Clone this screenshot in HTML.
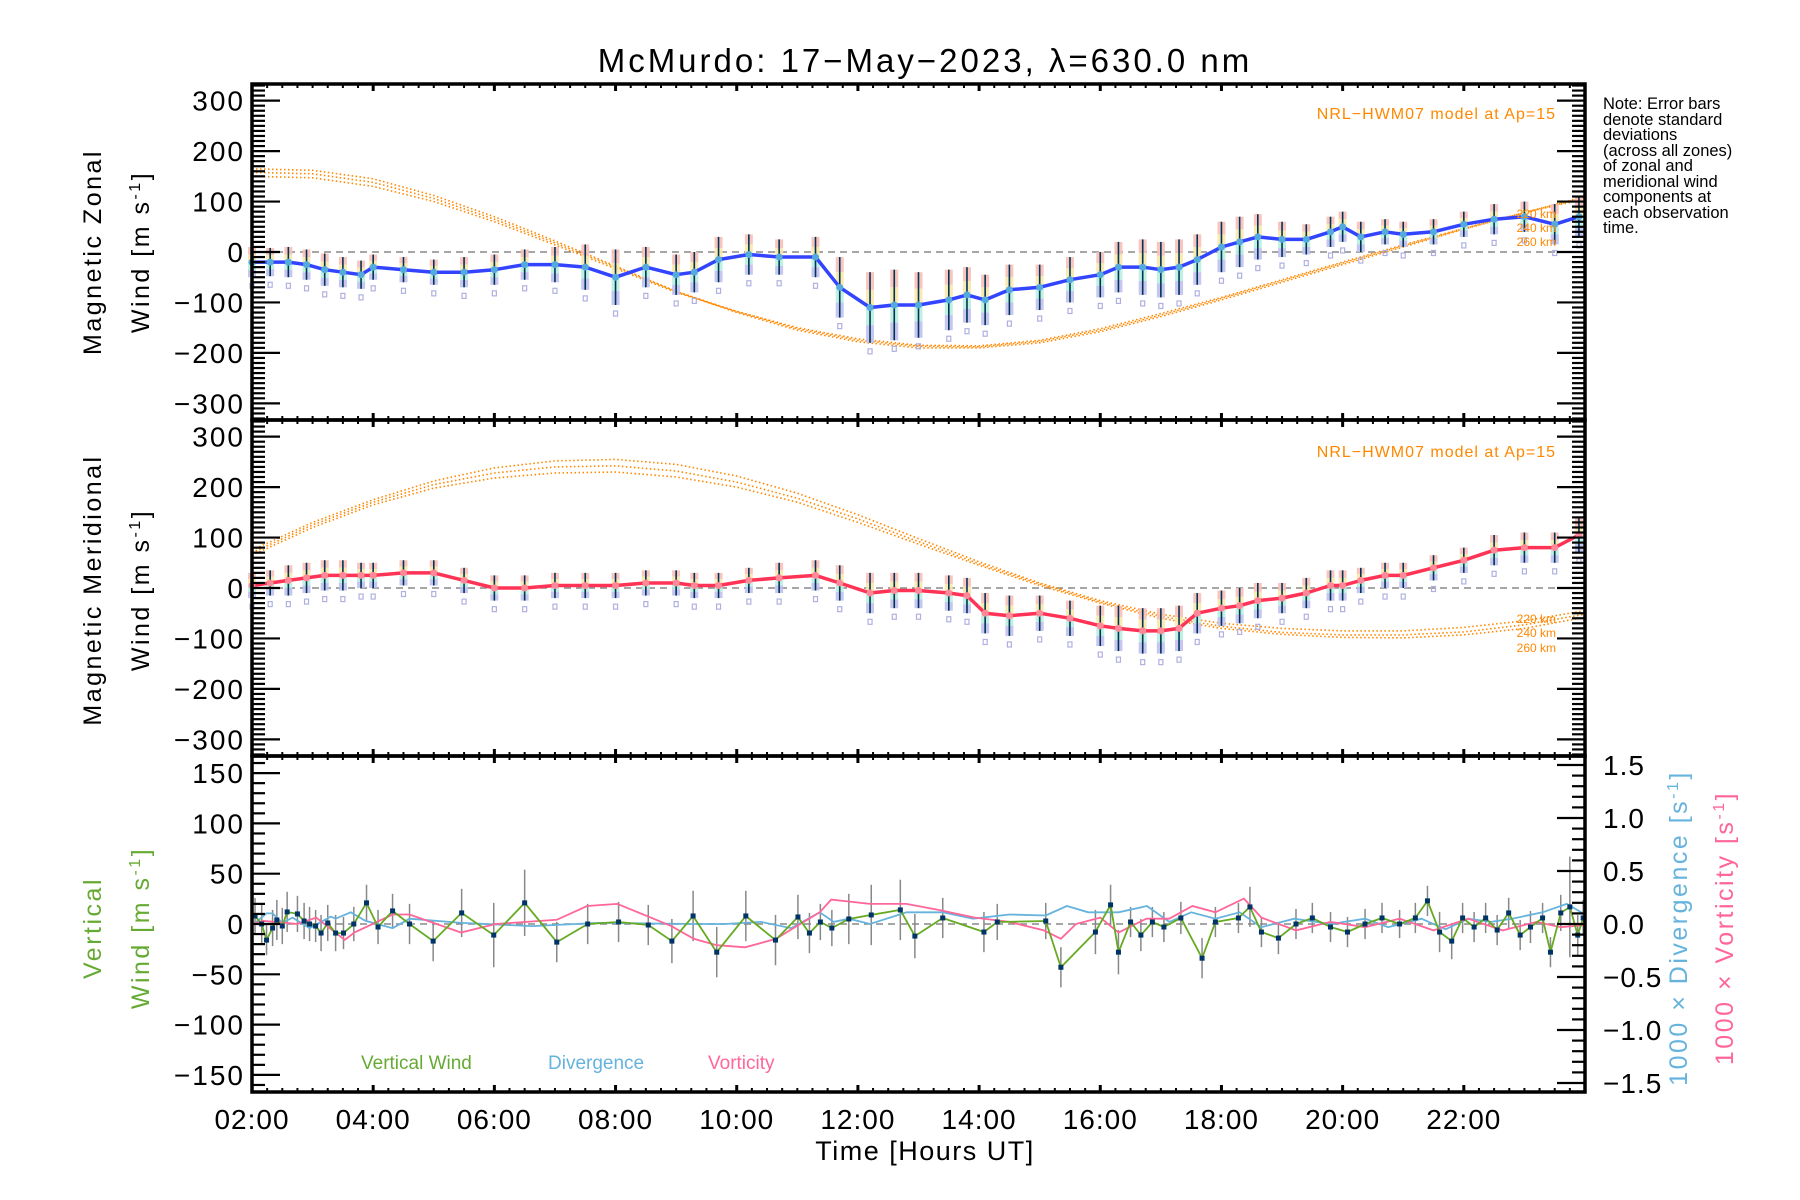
<!DOCTYPE html>
<html><head><meta charset="utf-8"><style>
html,body{margin:0;padding:0;background:#fff;}
svg{display:block;font-family:"Liberation Sans",sans-serif;}
</style></head><body>
<svg id="chart" width="1800" height="1200" viewBox="0 0 1800 1200" xmlns="http://www.w3.org/2000/svg">
<text x="925" y="72" font-size="33" text-anchor="middle" letter-spacing="3">McMurdo: 17−May−2023, λ=630.0 nm</text>
<g id="g1"></g>
<g id="g2"></g>
<g id="g3"></g>
<text transform="translate(101,252) rotate(-90)" font-size="25" text-anchor="middle" letter-spacing="2.5">Magnetic Zonal</text>
<text transform="translate(149,252) rotate(-90)" font-size="25" text-anchor="middle" letter-spacing="2.5">Wind [m s<tspan dy="-9" font-size="16">-1</tspan><tspan dy="9">]</tspan></text>
<text transform="translate(101,590) rotate(-90)" font-size="25" text-anchor="middle" letter-spacing="2.5">Magnetic Meridional</text>
<text transform="translate(149,590) rotate(-90)" font-size="25" text-anchor="middle" letter-spacing="2.5">Wind [m s<tspan dy="-9" font-size="16">-1</tspan><tspan dy="9">]</tspan></text>
<text transform="translate(101,928) rotate(-90)" font-size="25" fill="#66aa33" text-anchor="middle" letter-spacing="2.5">Vertical</text>
<text transform="translate(149,928) rotate(-90)" font-size="25" fill="#66aa33" text-anchor="middle" letter-spacing="2.5">Wind [m s<tspan dy="-9" font-size="16">-1</tspan><tspan dy="9">]</tspan></text>
<text transform="translate(1687,928) rotate(-90)" font-size="25" fill="#66b3dd" text-anchor="middle" letter-spacing="2.5">1000 × Divergence [s<tspan dy="-9" font-size="16">-1</tspan><tspan dy="9">]</tspan></text>
<text transform="translate(1733,928) rotate(-90)" font-size="25" fill="#ff6699" text-anchor="middle" letter-spacing="2.5">1000 × Vorticity [s<tspan dy="-9" font-size="16">-1</tspan><tspan dy="9">]</tspan></text>
<text x="925" y="1160" font-size="27" text-anchor="middle" letter-spacing="1.5">Time [Hours UT]</text>
<g font-size="16.5">
<text x="1603" y="109">Note: Error bars</text>
<text x="1603" y="125">denote standard</text>
<text x="1603" y="140">deviations</text>
<text x="1603" y="156">(across all zones)</text>
<text x="1603" y="171">of zonal and</text>
<text x="1603" y="187">meridional wind</text>
<text x="1603" y="202">components at</text>
<text x="1603" y="218">each observation</text>
<text x="1603" y="233">time.</text>
</g>
<text x="1556" y="119" font-size="16" fill="#ff8800" text-anchor="end" letter-spacing="1">NRL−HWM07 model at Ap=15</text>
<text x="1556" y="457" font-size="16" fill="#ff8800" text-anchor="end" letter-spacing="1">NRL−HWM07 model at Ap=15</text>
<g font-size="12" fill="#ff8800" text-anchor="end">
<text x="1556" y="218">220 km</text><text x="1556" y="232">240 km</text><text x="1556" y="246">260 km</text>
<text x="1556" y="623">220 km</text><text x="1556" y="637">240 km</text><text x="1556" y="652">260 km</text>
</g>
<text x="361" y="1069" font-size="19" fill="#66aa33">Vertical Wind</text>
<text x="548" y="1069" font-size="19" fill="#66b3dd">Divergence</text>
<text x="708" y="1069" font-size="19" fill="#ff6699">Vorticity</text>
</svg>
<script>
// ---- data ----
const modelHours=[2,3,4,5,6,7,8,9,10,11,12,13,14,15,16,17,18,19,20,21,22,23,24];
const zonalModel220=[165,162,145,112,70,22,-28,-78,-120,-155,-178,-190,-190,-180,-158,-128,-95,-60,-25,10,45,78,110];
const zonalModel240=[158,155,138,106,65,18,-30,-78,-118,-152,-175,-187,-188,-177,-155,-125,-92,-57,-22,12,46,78,108];
const zonalModel260=[150,147,130,100,60,14,-33,-80,-118,-150,-172,-185,-186,-175,-152,-122,-90,-55,-20,14,47,78,105];
const merModel220=[75,130,175,212,238,252,255,245,222,188,145,98,52,10,-25,-52,-70,-80,-85,-85,-78,-65,-45];
const merModel240=[70,125,170,205,228,240,242,232,210,178,137,92,48,8,-28,-56,-76,-88,-93,-93,-87,-73,-52];
const merModel260=[65,120,165,198,218,228,230,220,200,170,130,87,45,5,-30,-60,-80,-92,-98,-99,-93,-80,-58];
const obsHours=[2.0,2.3,2.6,2.9,3.2,3.5,3.8,4.0,4.5,5.0,5.5,6.0,6.5,7.0,7.5,8.0,8.5,9.0,9.3,9.7,10.2,10.7,11.3,11.7,12.2,12.6,13.0,13.5,13.8,14.1,14.5,15.0,15.5,16.0,16.3,16.7,17.0,17.3,17.6,18.0,18.3,18.6,19.0,19.4,19.8,20.0,20.3,20.7,21.0,21.5,22.0,22.5,23.0,23.5,23.9];
const zonalWind=[-20,-20,-20,-25,-35,-40,-45,-30,-35,-40,-40,-35,-25,-25,-30,-50,-30,-45,-40,-15,-5,-10,-10,-70,-110,-105,-105,-95,-85,-95,-75,-70,-55,-45,-30,-30,-35,-30,-15,10,20,30,25,25,40,50,30,40,35,40,55,65,70,55,70];
const zonalErr=[30,28,30,30,32,30,28,25,25,25,30,30,30,35,45,55,40,40,40,45,40,35,40,60,70,70,65,60,55,50,50,45,45,45,50,55,55,55,50,50,50,45,35,30,30,30,30,25,25,25,25,30,30,40,40];
const merWind=[5,10,15,20,25,25,25,25,30,30,15,0,0,5,5,5,10,10,5,5,15,20,25,10,-10,-5,-5,-10,-15,-50,-55,-50,-60,-75,-80,-85,-85,-80,-50,-40,-35,-25,-20,-10,5,5,15,25,25,40,55,75,80,80,105];
const merErr=[25,25,30,30,30,30,25,25,25,25,25,25,25,25,25,25,25,25,25,25,25,30,30,35,40,35,35,35,35,40,40,35,35,40,45,45,45,45,40,35,35,35,30,30,30,30,25,25,25,25,25,30,30,30,35];
const vertHours=[2.05,2.16,2.24,2.34,2.41,2.5,2.58,2.75,2.86,2.95,3.05,3.14,3.25,3.38,3.51,3.68,3.89,4.08,4.32,4.6,4.99,5.46,5.99,6.5,7.03,7.54,8.05,8.54,8.93,9.28,9.67,10.15,10.64,11.01,11.2,11.38,11.57,11.85,12.22,12.7,12.94,13.4,14.08,14.3,15.1,15.35,15.92,16.17,16.3,16.5,16.67,16.86,17.05,17.33,17.68,17.9,18.28,18.47,18.66,18.94,19.23,19.5,19.8,20.08,20.37,20.65,20.94,21.2,21.4,21.6,21.8,21.98,22.17,22.36,22.55,22.74,22.93,23.1,23.3,23.43,23.6,23.75,23.88,23.97];
const vertWind=[8,0,-16,-4,4,-2,12,10,3,0,-2,-9,1,-9,-9,0,21,-3,13,0,-17,11,-11,21,-18,0,2,-1,-17,8,-28,8,-16,7,-9,2,-4,5,9,14,-12,6,-8,2,3,-43,-8,19,-28,2,-11,2,-3,6,-34,2,6,17,-8,-14,0,6,-3,-8,0,6,0,6,23,-8,-17,6,-3,6,-6,11,-11,-3,6,-28,11,17,-11,6];
const vertErr=[18,20,15,18,20,18,20,18,18,17,16,18,18,18,16,17,18,17,17,20,20,24,32,33,20,20,20,20,22,25,25,25,25,22,20,18,18,25,30,30,22,20,20,18,18,20,22,20,22,15,16,15,15,16,20,15,15,20,15,16,15,15,15,15,15,15,14,15,15,20,18,15,15,15,15,15,15,16,15,15,18,50,20,18];
const divHours=[2.0,2.05,2.24,2.34,2.5,2.67,2.95,3.3,3.38,3.63,3.87,4.32,4.6,5.46,6.62,7.72,9.29,9.8,10.4,10.9,11.37,11.6,11.85,12.2,12.8,13.4,13.9,14.5,15.1,15.45,15.8,16.3,16.77,17.14,17.5,17.9,18.3,18.66,19.2,19.8,20.37,20.75,21.3,21.7,22.07,22.45,22.8,23.3,23.7,24.0];
const divergence=[0.0,0.01,0.1,0.1,0.01,0.06,-0.04,0.07,0.05,0.11,0.03,-0.04,0.05,0.01,-0.02,0.01,0.0,0.0,0.02,-0.04,0.11,0.02,0.05,0.0,0.11,0.11,0.05,0.09,0.08,0.17,0.11,0.11,0.17,0.02,0.11,0.05,0.11,-0.03,0.05,0.0,0.05,-0.03,0.05,-0.05,0.05,0.02,0.05,0.11,0.19,0.09];
const vortHours=[2.0,2.18,2.75,3.06,3.53,3.69,4.32,4.6,5.45,6.02,7.03,7.53,8.03,8.54,8.92,9.29,9.67,10.14,10.65,10.99,11.37,11.56,12.2,12.8,13.36,13.93,14.5,15.07,15.35,15.6,16.0,16.3,16.76,17.14,17.52,17.9,18.37,18.66,19.23,19.8,20.37,20.94,21.5,22.07,22.64,23.2,23.6,24.0];
const vorticity=[0.0,0.03,0.0,0.06,-0.15,-0.08,0.09,0.09,-0.08,0.0,0.04,0.17,0.19,0.07,-0.02,-0.14,-0.2,-0.22,-0.14,-0.02,0.11,0.23,0.19,0.19,0.13,0.06,0.02,-0.06,-0.14,0.0,0.06,-0.08,0.05,0.05,0.17,0.11,0.24,0.06,-0.06,0.02,-0.03,0.05,-0.06,0.05,-0.06,0.02,-0.03,-0.01];
const xTickLabels=["02:00","04:00","06:00","08:00","10:00","12:00","14:00","16:00","18:00","20:00","22:00"];
const windTickLabels=["−300","−200","−100","0","100","200","300"];
const vertTickLabels=["−150","−100","−50","0","50","100","150"];
const rightTickLabels=["−1.5","−1.0","−0.5","0.0","0.5","1.0","1.5"];

// ---- layout ----
const NS="http://www.w3.org/2000/svg";
const XL=252, XR=1585;
const X=h=>XL+(h-2)*(XR-XL)/22;
const P=[{top:84,bot:420},{top:420,bot:756},{top:756,bot:1092}];
const Y1=v=>252-v*336/666;
const Y2=v=>588-v*336/666;
const Y3=v=>924-v*336/334;
const Y3r=v=>924-v*106;
function mk(tag,attrs,parent){const e=document.createElementNS(NS,tag);for(const k in attrs)e.setAttribute(k,attrs[k]);parent.appendChild(e);return e;}
const svg=document.getElementById('chart');
const gs=[document.getElementById('g1'),document.getElementById('g2'),document.getElementById('g3')];

function zeroLine(g,y){const l=mk('line',{x1:XL,x2:XR,y1:y,y2:y,stroke:'#888','stroke-width':1.5,'stroke-dasharray':'7 5'},g);

}

function modelCurve(g,Yf,arr,name){const d=modelHours.map((h,i)=>(i?'L':'M')+X(h).toFixed(1)+' '+Yf(arr[i]).toFixed(1)).join(' ');
const p=mk('path',{d:d,fill:'none',stroke:'#ff8800','stroke-width':1.6,'stroke-dasharray':'1.5 2.5'},g);

}

const bandCols=['#f8c0b8','#f8e8a8','#b8f0e0','#c0c0f0'];
function obsSeries(g,Yf,vals,errs,lineCol,dotCol,name){
  const eg=mk('g',{},g);
  
  
  obsHours.forEach((h,i)=>{const x=X(h),v=vals[i],e=errs[i];
    for(let k=0;k<4;k++){const a=v+e-k*e*0.5,b=v+e-(k+1)*e*0.5;
      const r=mk('rect',{x:x-4,y:Yf(a),width:8,height:Yf(b)-Yf(a),fill:bandCols[k],opacity:0.9},eg);
      
      }
    const b=mk('rect',{x:x-2,y:Yf(v-e-12),width:4,height:5,fill:'none',stroke:'#b0b0e0','stroke-width':1.2},eg);
    
    
    const l=mk('line',{x1:x,x2:x,y1:Yf(v+e),y2:Yf(v-e),stroke:'#003355','stroke-width':1.6},eg);
    
    });
  const d=obsHours.map((h,i)=>(i?'L':'M')+X(h).toFixed(1)+' '+Yf(vals[i]).toFixed(1)).join(' ');
  const p=mk('path',{d:d,fill:'none',stroke:lineCol,'stroke-width':3.5,'stroke-linejoin':'round'},g);
  
  
  obsHours.forEach((h,i)=>{const c=mk('circle',{cx:X(h),cy:Yf(vals[i]),r:3.5,fill:dotCol},g);
    
    });
}

function axes(g,p,leftTicks,Yl,leftLabels,majorStep,minorStep,lmin,rightSpec){
  const ag=mk('g',{stroke:'#000'},g);
  
  
  for(let m=0;m<=22*4;m++){const h=2+m/4,x=X(h),maj=(m%8===0);
    const L=maj?7:4,w=maj?3:2;
    mk('line',{x1:x,x2:x,y1:p.top,y2:p.top+L,'stroke-width':w},ag);
    mk('line',{x1:x,x2:x,y1:p.bot,y2:p.bot-L,'stroke-width':w},ag);}
  for(let v=lmin;v<=-lmin+1e-6;v+=minorStep){const y=Yl(v);if(y<p.top+1||y>p.bot-1)continue;
    const maj=Math.abs(v/majorStep-Math.round(v/majorStep))<1e-6;const L=maj?28:13;
    mk('line',{x1:XL,x2:XL+L,y1:y,y2:y,'stroke-width':2.2},ag);
    if(!rightSpec)mk('line',{x1:XR,x2:XR-L,y1:y,y2:y,'stroke-width':2.2},ag);}
  if(rightSpec){for(let k=-15;k<=15;k++){const v=k/10,y=Y3r(v);if(y<p.top+1||y>p.bot-1)continue;
    const L=(k%5===0)?28:13;mk('line',{x1:XR,x2:XR-L,y1:y,y2:y,'stroke-width':2.2},ag);}}
  mk('rect',{x:XL,y:p.top,width:XR-XL,height:p.bot-p.top,fill:'none','stroke-width':3.5},ag);
  leftTicks.forEach((v,i)=>{const t=mk('text',{x:245,y:Yl(v)+10,'font-size':28,'text-anchor':'end','letter-spacing':2,stroke:'none'},g);
    t.textContent=leftLabels[i];
    
    });
}

zeroLine(gs[0],Y1(0));
modelCurve(gs[0],Y1,zonalModel220,'zonal-model-220km');
modelCurve(gs[0],Y1,zonalModel240,'zonal-model-240km');
modelCurve(gs[0],Y1,zonalModel260,'zonal-model-260km');
obsSeries(gs[0],Y1,zonalWind,zonalErr,'#3344ff','#55aadd','zonal-wind');
axes(gs[0],P[0],[-300,-200,-100,0,100,200,300],Y1,windTickLabels,100,10,-330,false);
zeroLine(gs[1],Y2(0));
modelCurve(gs[1],Y2,merModel220,'meridional-model-220km');
modelCurve(gs[1],Y2,merModel240,'meridional-model-240km');
modelCurve(gs[1],Y2,merModel260,'meridional-model-260km');
obsSeries(gs[1],Y2,merWind,merErr,'#ff3355','#ff8899','meridional-wind');
axes(gs[1],P[1],[-300,-200,-100,0,100,200,300],Y2,windTickLabels,100,10,-330,false);
const g3=gs[2];
zeroLine(g3,Y3(0));
vertHours.forEach((h,i)=>{const l=mk('line',{x1:X(h),x2:X(h),y1:Y3(vertWind[i]+vertErr[i]),y2:Y3(vertWind[i]-vertErr[i]),stroke:'#888','stroke-width':1.5},g3);
  
  });
function line3(hs,vs,Yf,col,name){const d=hs.map((h,i)=>(i?'L':'M')+X(h).toFixed(1)+' '+Yf(vs[i]).toFixed(1)).join(' ');
  const p=mk('path',{d:d,fill:'none',stroke:col,'stroke-width':1.8},g3);
  
  }
line3(divHours,divergence,Y3r,'#66b3dd','divergence-line');
line3(vortHours,vorticity,Y3r,'#ff6699','vorticity-line');
line3(vertHours,vertWind,Y3,'#66aa22','vertical-wind-line');
vertHours.forEach((h,i)=>{const r=mk('rect',{x:X(h)-2.5,y:Y3(vertWind[i])-2.5,width:5,height:5,fill:'#003366'},g3);
  
  });
axes(g3,P[2],[-150,-100,-50,0,50,100,150],Y3,vertTickLabels,50,10,-160,true);
[-1.5,-1.0,-0.5,0,0.5,1.0,1.5].forEach((v,i)=>{const t=mk('text',{x:1603,y:Y3r(v)+10,'font-size':28,'letter-spacing':1},g3);
  t.textContent=rightTickLabels[i];
  
  });
xTickLabels.forEach((s,i)=>{const t=mk('text',{x:X(2+2*i),y:1129,'font-size':28,'text-anchor':'middle','letter-spacing':1},svg);
  t.textContent=s;
  
  });
</script>
</body></html>
